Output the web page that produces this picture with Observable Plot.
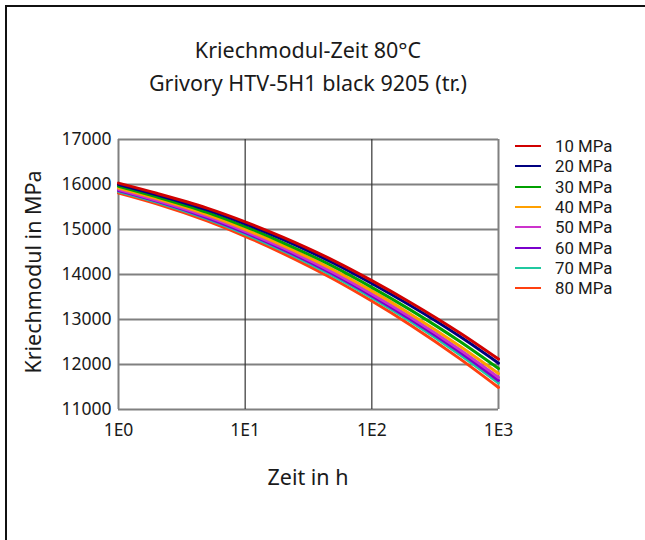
<!DOCTYPE html>
<html>
<head>
<meta charset="utf-8">
<script src="https://cdn.jsdelivr.net/npm/d3@7"></script>
<script src="https://cdn.jsdelivr.net/npm/@observablehq/plot@0.6"></script>
<style>
  body { margin: 0; background: #fff; font-family: "Noto Sans", sans-serif; color: #1a1a1a; }
  #wrap { position: relative; width: 645px; height: 540px; overflow: hidden; background: #fff; }
  #frame { position: absolute; left: 5px; top: 5px; width: 700px; height: 600px; border: 2px solid #111; box-sizing: border-box; }
  #chart { position: absolute; left: 0; top: 0; }
  .t { position: absolute; left: 0; width: 616px; text-align: center; font-size: 21.5px; line-height: 24px; white-space: nowrap; }
  #ylab { position: absolute; left: 33px; top: 272px; transform: translate(-50%, -50%) rotate(-90deg); font-size: 21.5px; line-height: 24px; white-space: nowrap; }
  .lg { position: absolute; left: 515px; width: 125px; height: 18px; }
  .lg span.l { position: absolute; left: 0; top: 8px; width: 26px; height: 2px; }
  .lg span.x { position: absolute; left: 40px; top: 0; font-family: Roboto, "Noto Sans", sans-serif; font-size: 16.8px; line-height: 18px; white-space: nowrap; }
</style>
</head>
<body>
<div id="wrap">
  <div id="frame"></div>
  <div id="chart"></div>
  <div class="t" style="top:38px">Kriechmodul-Zeit 80°C</div>
  <div class="t" style="top:71px">Grivory HTV-5H1 black 9205 (tr.)</div>
  <div class="t" style="top:465px">Zeit in h</div>
  <div id="ylab">Kriechmodul in MPa</div>
  <div id="legend"></div>
</div>
<script>
// ---- data ----
const times = [1, 2, 5, 10, 20, 50, 100, 200, 500, 1000];
const seriesNames = ["10 MPa", "20 MPa", "30 MPa", "40 MPa", "50 MPa", "60 MPa", "70 MPa", "80 MPa"];
const seriesColors = ["#d00000", "#000080", "#00a000", "#ffa000", "#cc33cc", "#7a00cc", "#20c8a0", "#ff4010"];
const mod10 = [16030, 15805, 15475, 15170, 14825, 14310, 13865, 13385, 12695, 12120];
const mod20 = [16000, 15770, 15435, 15125, 14775, 14250, 13800, 13315, 12615, 12030];
const mod30 = [15960, 15725, 15380, 15065, 14705, 14175, 13715, 13220, 12505, 11910];
const mod40 = [15920, 15685, 15330, 15005, 14640, 14100, 13635, 13130, 12400, 11800];
const mod50 = [15890, 15650, 15290, 14960, 14590, 14040, 13570, 13060, 12320, 11710];
const mod60 = [15865, 15630, 15260, 14930, 14555, 14000, 13525, 13010, 12265, 11645];
const mod70 = [15845, 15610, 15235, 14900, 14525, 13960, 13485, 12965, 12210, 11590];
const mod80 = [15810, 15570, 15190, 14850, 14465, 13895, 13410, 12885, 12120, 11490];
const yTicks = [11000, 12000, 13000, 14000, 15000, 16000, 17000];
const xTicks = [1, 10, 100, 1000];
const xTickLabels = ["1E0", "1E1", "1E2", "1E3"];

const allSeries = [mod10, mod20, mod30, mod40, mod50, mod60, mod70, mod80];
const rows = [];
// reverse order so the 10 MPa curve is drawn on top
for (let s = allSeries.length - 1; s >= 0; s--) {
  allSeries[s].forEach((v, i) => rows.push({ t: times[i], e: v, name: seriesNames[s] }));
}

const plot = Plot.plot({
  width: 645,
  height: 540,
  marginLeft: 118,
  marginRight: 147,
  marginTop: 139,
  marginBottom: 131,
  style: { fontFamily: "Noto Sans, sans-serif", fontSize: "17.5px", color: "#1a1a1a", background: "transparent" },
  x: { type: "log", domain: [1, 1000], axis: null, label: null },
  y: { domain: [11000, 17000], axis: null, label: null },
  color: { domain: seriesNames, range: seriesColors },
  marks: [
    Plot.ruleY(yTicks, { stroke: "#808080", strokeWidth: 2 }),
    Plot.ruleX([1, 1000], { stroke: "#808080", strokeWidth: 2 }),
    Plot.ruleX([10, 100], { stroke: "#333", strokeWidth: 1.2 }),
    Plot.line(rows, { x: "t", y: "e", z: "name", stroke: "name", strokeWidth: 3, curve: "monotone-x" }),
    Plot.axisY({ ticks: yTicks, tickSize: 0, tickPadding: 7, tickFormat: d => String(d), fontSize: 17.5, label: null }),
    Plot.axisX({ ticks: xTicks, tickSize: 0, tickPadding: 14, tickFormat: d => xTickLabels[xTicks.indexOf(d)], fontSize: 17.5, label: null })
  ]
});
document.getElementById("chart").appendChild(plot);

// legend
const lg = document.getElementById("legend");
seriesNames.forEach((n, i) => {
  const d = document.createElement("div");
  d.className = "lg";
  d.style.top = Math.round(137 + i * 20.3) + "px";
  d.innerHTML = `<span class="l" style="background:${seriesColors[i]}"></span><span class="x">${n}</span>`;
  lg.appendChild(d);
});
</script>
</body>
</html>
